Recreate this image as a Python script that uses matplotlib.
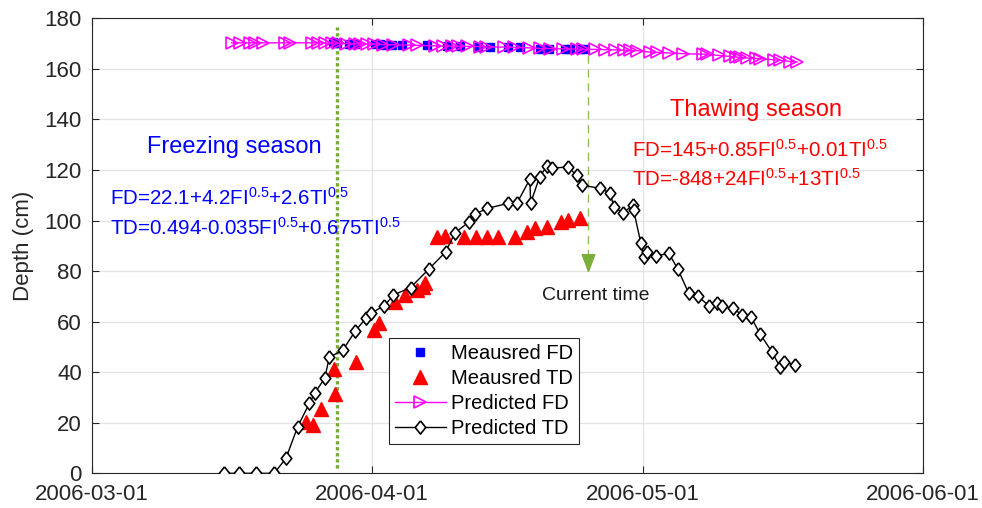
import matplotlib
matplotlib.use("Agg")
import matplotlib.pyplot as plt
import matplotlib.dates as mdates
import numpy as np
from datetime import datetime

plt.rcParams['font.family'] = ['Liberation Sans', 'DejaVu Sans']
plt.rcParams['mathtext.default'] = 'regular'

# dias contados desde 2006-03-01
base = mdates.date2num(datetime(2006, 3, 1))

# Measured FD
fd_med_dias = [26.7, 27.2, 28.5, 29.2, 31.4, 31.9, 32.5, 33.2, 34.3, 37.1, 39.3,
               40.8, 42.8, 44.1, 46.1, 47.4, 49.6, 50.6, 52.4, 53.0, 54.1, 54.6]
fd_med = [170.5, 170.3, 170.0, 170.0, 169.8, 169.8, 169.6, 169.6, 169.6, 169.4, 169.0,
          169.0, 168.8, 168.8, 168.8, 168.8, 168.0, 168.0, 167.7, 167.7, 167.7, 167.7]

# Measured TD
td_med_dias = [23.7, 24.5, 25.4, 26.9, 26.8, 29.3, 31.3, 31.8, 33.6, 34.7, 36.0, 36.7, 36.9,
               38.2, 39.1, 41.2, 42.6, 43.8, 45.0, 46.9, 48.2, 49.1, 50.4, 52.0, 52.7, 54.1]
td_med = [20.4, 19.1, 25.3, 31.4, 41.1, 44.1, 56.7, 59.5, 67.9, 70.5, 72.5, 73.8, 75.3,
          93.4, 94.0, 93.4, 93.6, 93.6, 93.6, 93.6, 95.6, 96.9, 97.5, 99.5, 100.2, 100.9]

# Predicted FD
fd_pred_dias = [15.5, 16.4, 17.5, 18.1, 19.0, 21.4, 22.0, 24.4, 25.1, 25.8, 26.6, 27.3,
                28.2, 29.2, 29.7, 30.5, 31.2, 32.3, 33.4, 35.1, 36.0, 38.0, 38.9, 39.9,
                40.6, 41.5, 43.0, 43.7, 45.6, 46.7, 48.4, 49.6, 50.7, 52.2, 53.7, 54.4,
                55.7, 56.8, 57.9, 58.9, 59.6, 60.4, 61.8, 62.6, 63.9, 65.5, 67.7, 68.1,
                69.4, 70.7, 71.3, 71.8, 72.5, 73.6, 74.0, 75.5, 76.2, 77.3, 78.1]
fd_pred = [170.3, 170.3, 170.3, 170.3, 170.3, 170.3, 170.3, 170.3, 170.3, 170.2, 170.2, 170.1,
           170.0, 170.0, 169.9, 169.8, 169.8, 169.6, 169.5, 169.4, 169.3, 169.1, 169.0, 169.0,
           168.9, 168.9, 168.8, 168.7, 168.6, 168.5, 168.3, 168.1, 168.0, 167.9, 167.8, 167.7,
           167.7, 167.6, 167.5, 167.4, 167.3, 167.2, 166.6, 166.5, 166.3, 166.0, 165.8, 165.8,
           165.3, 164.9, 164.7, 164.5, 164.3, 164.1, 164.0, 163.6, 163.4, 162.9, 162.7]

# Predicted TD
td_pred_dias = [14.65, 16.3, 18.2, 20.2, 21.5, 22.8, 24.1, 24.7, 25.8, 26.3, 27.8, 29.2,
                30.4, 30.9, 32.4, 33.4, 35.3, 37.3, 39.2, 40.2, 41.8, 42.4, 43.8, 46.1,
                47.1, 48.5, 48.6, 49.6, 50.4, 51.0, 52.7, 53.7, 54.3, 56.3, 57.4, 57.8,
                58.8, 59.9, 60.0, 60.8, 61.1, 61.5, 62.5, 63.9, 64.9, 66.1, 67.1, 68.3,
                69.2, 69.8, 71.0, 72.0, 73.0, 74.0, 75.3, 76.2, 76.6, 77.9]
td_pred = [0, 0, 0, 0, 5.9, 18.4, 27.7, 31.8, 37.6, 45.9, 48.7, 56.4,
           61.5, 63.3, 66.3, 70.5, 73.5, 80.7, 87.6, 95.1, 99.5, 102.5, 104.8, 106.8,
           107.0, 116.3, 107.0, 117.3, 121.6, 120.7, 121.2, 117.9, 114.0, 112.7, 110.9, 105.5,
           102.9, 106.1, 104.0, 91.0, 85.6, 87.6, 86.0, 87.0, 80.7, 71.2, 70.2, 66.3,
           67.4, 66.0, 65.3, 62.6, 61.7, 55.1, 48.1, 42.1, 44.1, 42.8]

dia_inicio = 27.2     # linea verde punteada
dia_actual = 55.0     # current time

fig = plt.figure(figsize=(9.82, 5.08), dpi=100)
ax = fig.add_axes([0.0934, 0.0683, 0.8462, 0.8957])

x = lambda d: base + np.array(d)

# marcador rombo como el de matlab (mas alto que ancho)
rombo = [(0, 1), (0.8, 0), (0, -1), (-0.8, 0), (0, 1)]

ax.plot(x(fd_med_dias), fd_med, 's', color='blue', markersize=6, linestyle='none',
        label='Meausred FD', zorder=3)
ax.plot(x(td_med_dias), td_med, '^', color='red', markersize=9.5, linestyle='none',
        label='Meausred TD', zorder=3)
ax.plot(x(fd_pred_dias), fd_pred, '->', color='magenta', markerfacecolor='none',
        markersize=8, lw=1, mew=1.2, label='Predicted FD', zorder=4)
ax.plot(x(td_pred_dias), td_pred, '-', color='black', marker=rombo, markerfacecolor='white',
        markersize=9.5, lw=1, mew=1.2, label='Predicted TD', zorder=4)

# linea verde punteada
ax.plot(x([dia_inicio, dia_inicio]), [2.1, 176.5], color='#77AC30', lw=2.4,
        linestyle=(0, (1, 0.8)), zorder=2)

# flecha current time
ax.plot(x([dia_actual, dia_actual]), [165.5, 82], color='#8DBF5A', lw=1,
        linestyle=(0, (6, 4)), zorder=2)
ax.annotate('', xy=(x(dia_actual), 78), xytext=(x(dia_actual), 84),
            arrowprops=dict(arrowstyle='-|>,head_length=1.2,head_width=0.45',
                            color='#7BAF3A', lw=1))
ax.text(x(49.9), 68.6, 'Current time', fontsize=14, color='#1a1a1a', va='baseline')

# textos
ax.text(x(15.75), 126.8, 'Freezing season', fontsize=17, color='blue', ha='center',
        va='baseline')
ax.text(x(2.0), 106.1, r'FD=22.1+4.2FI$^{0.5}$+2.6TI$^{0.5}$', fontsize=14.8,
        color='blue', va='baseline')
ax.text(x(2.0), 94.3, r'TD=0.494-0.035FI$^{0.5}$+0.675TI$^{0.5}$', fontsize=14.8,
        color='blue', va='baseline')
ax.text(x(73.5), 141.3, 'Thawing season', fontsize=17, color='red', ha='center',
        va='baseline')
ax.text(x(59.8), 125.2, r'FD=145+0.85FI$^{0.5}$+0.01TI$^{0.5}$', fontsize=14.8,
        color='red', va='baseline')
ax.text(x(59.8), 113.6, r'TD=-848+24FI$^{0.5}$+13TI$^{0.5}$', fontsize=14.8,
        color='red', va='baseline')

# ejes
ax.set_xlim(base, mdates.date2num(datetime(2006, 6, 1)))
ax.set_ylim(0, 180)
ax.set_xticks([mdates.date2num(datetime(2006, m, 1)) for m in (3, 4, 5, 6)])
ax.xaxis.set_major_formatter(mdates.DateFormatter('%Y-%m-%d'))
ax.set_yticks(np.arange(0, 181, 20))
ax.set_ylabel('Depth (cm)', fontsize=16, color='#262626', labelpad=8)
ax.tick_params(direction='in', top=True, right=True, labelsize=16, colors='#262626',
               length=5, width=0.8)
ax.tick_params(axis='x', pad=8)
ax.tick_params(axis='y', pad=7)
ax.grid(True, color='#e3e3e3', lw=0.9)
ax.set_axisbelow(True)
for s in ax.spines.values():
    s.set_color('#262626')
    s.set_linewidth(0.8)

leg = ax.legend(loc='upper left', bbox_to_anchor=(0.358, 0.297), fontsize=14.5,
                fancybox=False, framealpha=1, edgecolor='#262626', handlelength=2.5,
                borderpad=0.3, labelspacing=0.3, handletextpad=0.25, borderaxespad=0)
leg.get_frame().set_linewidth(0.8)

fig.savefig('out.png', dpi=100)
